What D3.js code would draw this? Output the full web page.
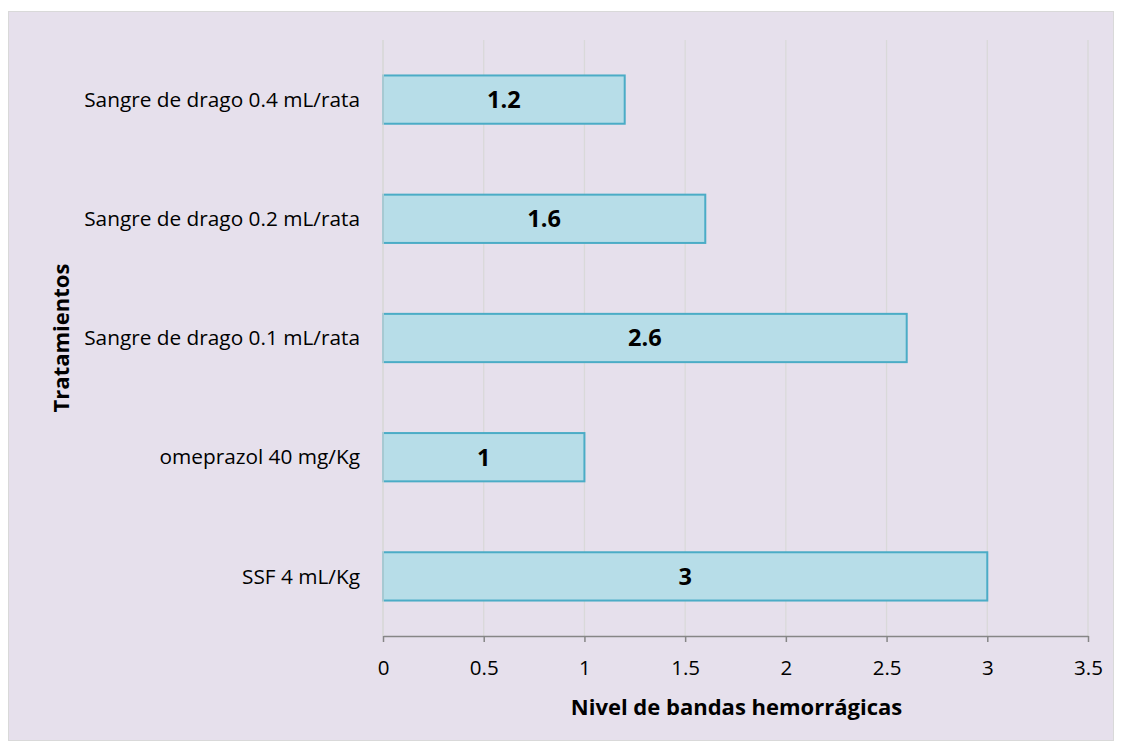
<!DOCTYPE html>
<html>
<head>
<meta charset="utf-8">
<script src="https://cdn.jsdelivr.net/npm/d3@7"></script>
<style>
  html, body { margin: 0; padding: 0; background: #ffffff; }
  svg { display: block; }
</style>
</head>
<body>
<svg id="chart" width="1122" height="749"></svg>
<script>
// Treatments (top to bottom) and their haemorrhagic band levels
const categories = [
  "Sangre de drago 0.4 mL/rata",
  "Sangre de drago 0.2 mL/rata",
  "Sangre de drago 0.1 mL/rata",
  "omeprazol 40 mg/Kg",
  "SSF 4 mL/Kg"
];
const values = [1.2, 1.6, 2.6, 1, 3];
const xTicks = [0, 0.5, 1, 1.5, 2, 2.5, 3, 3.5];
const tickLabels = ["0", "0.5", "1", "1.5", "2", "2.5", "3", "3.5"];

const FONT = "'Open Sans', sans-serif";
const svg = d3.select("#chart");

// chart panel
svg.append("rect")
  .attr("x", 8.5).attr("y", 11.5)
  .attr("width", 1105).attr("height", 729)
  .attr("fill", "#e6e0ec")
  .attr("stroke", "#d9d9d9").attr("stroke-width", 1);

const plot = { left: 383, right: 1088, top: 40, bottom: 636 };

const x = d3.scaleLinear().domain([0, 3.5]).range([plot.left, plot.right]);
const y = d3.scaleBand().domain(categories).range([plot.top, plot.bottom]).padding(0);

// vertical gridlines
svg.append("g").selectAll("line")
  .data(xTicks)
  .join("line")
  .attr("x1", d => x(d)).attr("x2", d => x(d))
  .attr("y1", plot.top).attr("y2", plot.bottom)
  .attr("stroke", "#d9d9d9").attr("stroke-width", 1.3);

// bars
const barH = y.bandwidth() * 0.405;
svg.append("g").selectAll("rect")
  .data(categories)
  .join("rect")
  .attr("x", x(0))
  .attr("y", (d) => y(d) + y.bandwidth() / 2 - barH / 2)
  .attr("width", (d, i) => x(values[i]) - x(0))
  .attr("height", barH)
  .attr("fill", "#b7dde8")
  .attr("stroke", "#4bacc6")
  .attr("stroke-width", 2);

// value labels
svg.append("g").selectAll("text")
  .data(categories)
  .join("text")
  .attr("x", (d, i) => (x(0) + x(values[i])) / 2)
  .attr("y", d => y(d) + y.bandwidth() / 2)
  .attr("dy", "0.36em")
  .attr("text-anchor", "middle")
  .attr("font-family", FONT)
  .attr("font-weight", "bold")
  .attr("font-size", 23.5)
  .attr("fill", "#000")
  .text((d, i) => values[i]);

// x axis
const xAxis = d3.axisBottom(x)
  .tickValues(xTicks)
  .tickFormat((d, i) => tickLabels[i])
  .tickSizeInner(6)
  .tickSizeOuter(0)
  .tickPadding(18);
const gx = svg.append("g")
  .attr("transform", `translate(0,${plot.bottom})`)
  .call(xAxis);
gx.select(".domain").attr("stroke", "#868686").attr("stroke-width", 1.5);
gx.selectAll(".tick line").attr("stroke", "#868686").attr("stroke-width", 1.5);
gx.selectAll(".tick text")
  .attr("font-family", FONT)
  .attr("font-size", 20.5)
  .attr("fill", "#000");

// category labels
svg.append("g").selectAll("text")
  .data(categories)
  .join("text")
  .attr("x", 360)
  .attr("y", d => y(d) + y.bandwidth() / 2)
  .attr("dy", "0.35em")
  .attr("text-anchor", "end")
  .attr("font-family", FONT)
  .attr("font-size", 20.8)
  .attr("fill", "#000")
  .text(d => d);

// vertical axis line (left)
svg.append("line")
  .attr("x1", plot.left).attr("x2", plot.left)
  .attr("y1", plot.top).attr("y2", plot.bottom)
  .attr("stroke", "#d9d9d9").attr("stroke-width", 1.3);

// axis titles
svg.append("text")
  .attr("x", (plot.left + plot.right) / 2 + 1)
  .attr("y", 715)
  .attr("text-anchor", "middle")
  .attr("font-family", FONT)
  .attr("font-weight", "bold")
  .attr("font-size", 22)
  .attr("fill", "#000")
  .text("Nivel de bandas hemorrágicas");

svg.append("text")
  .attr("transform", `translate(69,${(plot.top + plot.bottom) / 2}) rotate(-90)`)
  .attr("text-anchor", "middle")
  .attr("font-family", FONT)
  .attr("font-weight", "bold")
  .attr("font-size", 22)
  .attr("fill", "#000")
  .text("Tratamientos");
</script>
</body>
</html>
